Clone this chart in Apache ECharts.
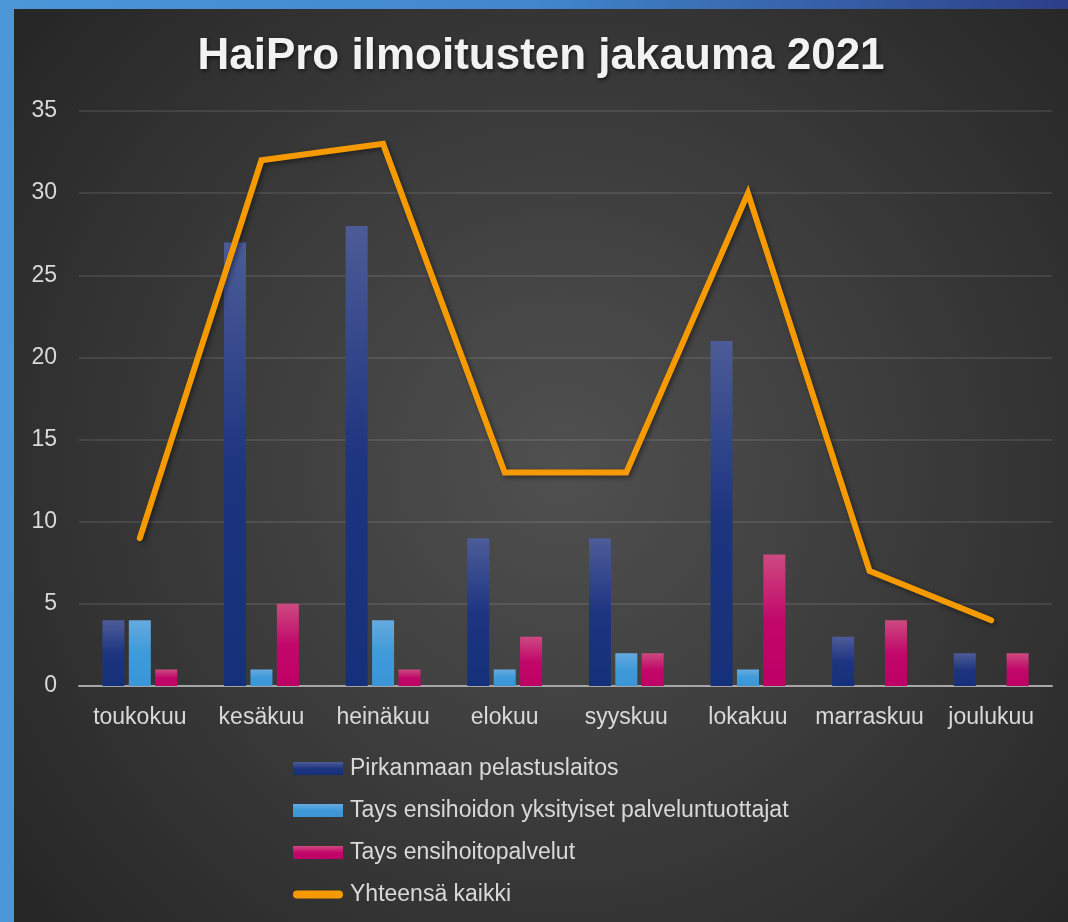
<!DOCTYPE html>
<html>
<head>
<meta charset="utf-8">
<script src="https://cdn.jsdelivr.net/npm/echarts@6/dist/echarts.min.js"></script>
<style>
  html, body { margin: 0; padding: 0; }
  body {
    width: 1068px; height: 922px; overflow: hidden; position: relative;
    background: linear-gradient(to right, #4b97d8, #4187cc 50%, #2c3f88);
  }
  #chart { position: absolute; left: 14px; top: 9px; width: 1054px; height: 913px; }
</style>
</head>
<body>
<div id="chart"></div>
<script>
// data
const months = ['toukokuu', 'kesäkuu', 'heinäkuu', 'elokuu', 'syyskuu', 'lokakuu', 'marraskuu', 'joulukuu'];
const pelastus = [4, 27, 28, 9, 9, 21, 3, 2];
const yksityiset = [4, 1, 4, 1, 2, 1, 0, 0];
const ensihoito = [1, 5, 1, 3, 2, 8, 4, 2];
const yhteensa = [9, 32, 33, 13, 13, 30, 7, 4];
const seriesNames = [
  'Pirkanmaan pelastuslaitos',
  'Tays ensihoidon yksityiset palveluntuottajat',
  'Tays ensihoitopalvelut',
  'Yhteensä kaikki'
];
const yTicks = { min: 0, max: 35, interval: 5 };

const chart = echarts.init(document.getElementById('chart'));

const grad = (top, mid, bottom) => new echarts.graphic.LinearGradient(0, 0, 0, 1, [
  { offset: 0, color: top },
  { offset: 0.5, color: mid },
  { offset: 1, color: bottom }
]);

const barShadow = {
  shadowBlur: 5,
  shadowColor: 'rgba(0,0,0,0.45)',
  shadowOffsetX: 2,
  shadowOffsetY: 2
};

const labelFont = {
  color: '#d9d9d9',
  fontSize: 23,
  fontFamily: 'Arial, "Liberation Sans", sans-serif'
};

// capsule shaped legend icon for the line, padded to the 50x13 icon box
const lineIcon = 'path://M0,0 M50,13 M4,2.5 L46,2.5 A4,4 0 0 1 46,10.5 L4,10.5 A4,4 0 0 1 4,2.5 Z';

const option = {
  backgroundColor: {
    type: 'radial', x: 0.52, y: 0.5, r: 0.75,
    colorStops: [
      { offset: 0, color: '#505050' },
      { offset: 1, color: '#272727' }
    ]
  },
  title: {
    text: 'HaiPro ilmoitusten jakauma 2021',
    left: 'center',
    top: 21,
    textStyle: {
      color: '#f2f2f2',
      fontSize: 44,
      fontWeight: 'bold',
      fontFamily: 'Arial, "Liberation Sans", sans-serif',
      textShadowColor: 'rgba(0,0,0,0.6)',
      textShadowBlur: 4,
      textShadowOffsetX: 1,
      textShadowOffsetY: 2
    }
  },
  legend: {
    orient: 'vertical',
    left: 274,
    top: 743,
    itemWidth: 50,
    itemHeight: 13,
    itemGap: 19,
    data: [
      { name: seriesNames[0], icon: 'rect' },
      { name: seriesNames[1], icon: 'rect' },
      { name: seriesNames[2], icon: 'rect' },
      { name: seriesNames[3], icon: lineIcon }
    ],
    textStyle: Object.assign({}, labelFont, { lineHeight: 23, padding: [0, 0, 0, 2] })
  },
  grid: { left: 65, right: 16, top: 102, bottom: 236 },
  xAxis: {
    type: 'category',
    data: months,
    axisTick: { show: false },
    axisLine: { lineStyle: { color: '#a6a6a6', width: 2 } },
    axisLabel: Object.assign({}, labelFont, { margin: 20, interval: 0 })
  },
  yAxis: {
    type: 'value',
    min: yTicks.min,
    max: yTicks.max,
    interval: yTicks.interval,
    axisLine: { show: false },
    axisTick: { show: false },
    splitLine: { lineStyle: { color: 'rgba(255,255,255,0.13)', width: 1.5 } },
    axisLabel: Object.assign({}, labelFont, { margin: 22 })
  },
  series: [
    {
      name: seriesNames[0],
      type: 'bar',
      data: pelastus,
      barWidth: 22,
      barGap: '20%',
      itemStyle: Object.assign({ color: grad('#4d5c98', '#1e3580', '#15307a') }, barShadow)
    },
    {
      name: seriesNames[1],
      type: 'bar',
      data: yksityiset,
      barWidth: 22,
      barGap: '20%',
      itemStyle: Object.assign({ color: grad('#66aadf', '#3e9ad9', '#3a96d6') }, barShadow)
    },
    {
      name: seriesNames[2],
      type: 'bar',
      data: ensihoito,
      barWidth: 22,
      barGap: '20%',
      itemStyle: Object.assign({ color: grad('#cd4a80', '#c1086a', '#bf0066') }, barShadow)
    },
    {
      name: seriesNames[3],
      type: 'line',
      data: yhteensa,
      symbol: 'none',
      lineStyle: {
        color: '#f59a00',
        width: 6,
        cap: 'round',
        join: 'miter',
        shadowBlur: 5,
        shadowColor: 'rgba(0,0,0,0.45)',
        shadowOffsetX: 2,
        shadowOffsetY: 2
      },
      itemStyle: { color: '#f59a00' },
      z: 5
    }
  ]
};

chart.setOption(option);
</script>
</body>
</html>
